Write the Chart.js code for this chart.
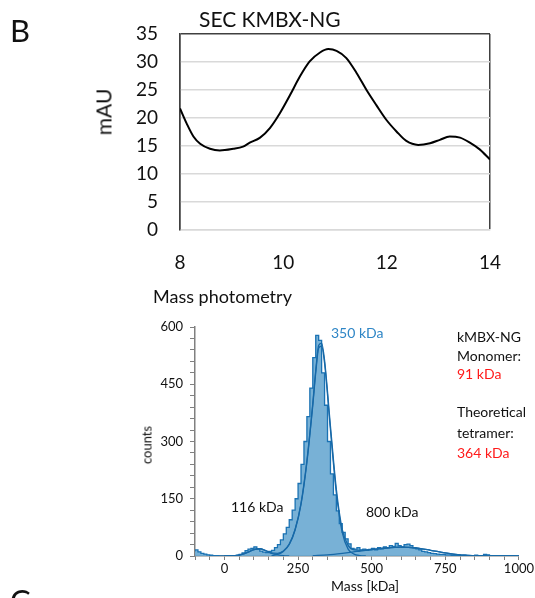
<!DOCTYPE html>
<html>
<head>
    <title>SEC and mass photometry</title>
    <script src="https://cdn.jsdelivr.net/npm/chart.js"></script>
    <style>
        body { margin: 0; background: #fff; font-family: Lato, sans-serif; }
        #wrap { position: relative; width: 535px; height: 598px; overflow: hidden; }
        canvas { position: absolute; left: 0; }
        .t { position: absolute; line-height: 1; white-space: nowrap; color: #111; }
        .red { color: #ff1a1a; }
        .blue { color: #2f86c6; }
    </style>
</head>
<body>
<div id="wrap">
    <canvas id="secChart" width="535" height="290" style="top:0"></canvas>
    <canvas id="mpChart" width="535" height="308" style="top:290px"></canvas>

    <div class="t" style="left:10px; top:15px; font-size:31px;">B</div>
    <div class="t" style="left:199px; top:8px; font-size:21px;">SEC KMBX-NG</div>
    <div class="t" style="left:103px; top:112px; font-size:21px; transform:translate(-50%,-50%) rotate(-90deg);">mAU</div>
    <div class="t" style="left:153px; top:287px; font-size:18px;">Mass photometry</div>

    <div class="t" style="left:147px; top:445px; font-size:13px; transform:translate(-50%,-50%) rotate(-90deg);">counts</div>
    <div class="t" style="left:365px; top:586px; font-size:14px; transform:translate(-50%,-50%);">Mass [kDa]</div>

    <div class="t blue" style="left:331px; top:326px; font-size:14px;">350 kDa</div>
    <div class="t" style="left:231px; top:500px; font-size:14px;">116 kDa</div>
    <div class="t" style="left:366px; top:505px; font-size:14px;">800 kDa</div>

    <div class="t" style="left:457px; top:330px; font-size:14px;">kMBX-NG</div>
    <div class="t" style="left:457px; top:349px; font-size:14px;">Monomer:</div>
    <div class="t red" style="left:457px; top:367px; font-size:14px;">91 kDa</div>
    <div class="t" style="left:457px; top:405px; font-size:14px;">Theoretical</div>
    <div class="t" style="left:457px; top:426px; font-size:14px;">tetramer:</div>
    <div class="t red" style="left:457px; top:446px; font-size:14px;">364 kDa</div>

    <div class="t" style="left:10px; top:585px; font-size:31px;">C</div>
</div>

<script>
    // SEC trace (elution volume vs absorbance)
    var secVolume = [8.0, 8.13, 8.26, 8.39, 8.58, 8.77, 9.03, 9.22, 9.35, 9.55, 9.74, 9.93, 10.13, 10.32, 10.51,
        10.71, 10.87, 11.03, 11.22, 11.42, 11.61, 11.8, 12.0, 12.19, 12.38, 12.61, 12.84, 13.03, 13.22, 13.42,
        13.61, 13.8, 14.0];
    var secMAU = [21.7, 19.0, 16.7, 15.4, 14.5, 14.2, 14.5, 14.9, 15.6, 16.5, 18.2, 20.8, 24.1, 27.4, 30.1,
        31.7, 32.3, 32.0, 30.7, 28.0, 25.0, 22.3, 19.6, 17.6, 15.9, 15.2, 15.5, 16.1, 16.7, 16.5,
        15.6, 14.4, 12.6];
    var secTicksX = [8, 10, 12, 14];

    // mass photometry histogram, 10 kDa bins (left edges)
    var massBins = [
        -100, -90, -80, -70, -60, -50, -40, -30, -20, -10,
        0, 10, 20, 30, 40, 50, 60, 70, 80, 90,
        100, 110, 120, 130, 140, 150, 160, 170, 180, 190,
        200, 210, 220, 230, 240, 250, 260, 270, 280, 290,
        300, 310, 320, 330, 340, 350, 360, 370, 380, 390,
        400, 410, 420, 430, 440, 450, 460, 470, 480, 490,
        500, 510, 520, 530, 540, 550, 560, 570, 580, 590,
        600, 610, 620, 630, 640, 650, 660, 670, 680, 690,
        700, 710, 720, 730, 740, 750, 760, 770, 780, 790,
        800, 810, 820, 830, 840, 850, 860, 870, 880, 890,
        900, 910, 920, 930, 940, 950, 960, 970, 980, 990, 1000];
    var massCounts = [
        12, 16, 11, 7, 5, 3, 2, 1, 1, 0,
        0, 0, 1, 0, 1, 2, 4, 8, 14, 18,
        20, 24, 18, 13, 10, 9, 12, 15, 22, 30,
        42, 58, 75, 95, 120, 150, 190, 240, 300, 365,
        440, 520, 578, 565, 480, 395, 300, 215, 160, 118,
        85, 62, 45, 32, 20, 18, 22, 16, 18, 15,
        17, 20, 16, 22, 19, 24, 22, 27, 25, 33,
        27, 24, 30, 31, 27, 22, 19, 16, 12, 11,
        9, 7, 6, 5, 4, 4, 3, 3, 2, 2,
        2, 1, 2, 1, 1, 1, 2, 1, 1, 4,
        3, 1, 1, 1, 1, 1, 1, 1, 1, 1, 1];

    // gaussian fits
    var fit1Mass = [0, 20, 40, 60, 80, 100, 120, 140, 160, 180, 200, 220];
    var fit1Counts = [0, 0, 1, 4, 10, 17, 19, 14, 7, 3, 1, 0];
    var fit2Mass = [160, 180, 200, 220, 240, 260, 280, 300, 310, 320, 330, 340, 360, 380, 400, 420, 440, 460, 480];
    var fit2Counts = [1, 4, 12, 30, 68, 135, 245, 395, 480, 545, 550, 505, 330, 165, 62, 18, 5, 1, 0];
    var fit3Mass = [300, 350, 400, 450, 500, 550, 600, 650, 700, 750, 800, 850, 900];
    var fit3Counts = [1, 3, 7, 12, 17, 21, 23, 21, 15, 8, 3, 1, 0];
    var fitSumMass = [0, 40, 80, 100, 120, 140, 160, 180, 200, 220, 240, 260, 280, 300, 310, 320, 330, 340,
        360, 380, 400, 420, 440, 460, 500, 550, 600, 650, 700, 750, 800, 850, 900, 1000];
    var fitSumCounts = [0, 1, 10, 17, 19, 14, 8, 7, 13, 31, 70, 138, 250, 400, 486, 552, 558, 513,
        340, 175, 70, 28, 16, 15, 17, 21, 23, 21, 15, 8, 3, 1, 0, 0];

    var massTicksX = [-100, -50, 0, 50, 100, 150, 200, 250, 300, 350, 400, 450, 500, 550, 600, 650, 700, 750,
        800, 850, 900, 950, 1000];

    Chart.defaults.font.family = 'Lato, sans-serif';
    Chart.defaults.color = '#111';

    function pts(xs, ys) {
        return xs.map(function (x, i) { return { x: x, y: ys[i] }; });
    }

    // top: SEC
    new Chart(document.getElementById('secChart').getContext('2d'), {
        type: 'line',
        data: {
            datasets: [{
                data: pts(secVolume, secMAU),
                borderColor: '#000',
                borderWidth: 2,
                pointRadius: 0,
                cubicInterpolationMode: 'monotone',
                fill: false
            }]
        },
        options: {
            responsive: false,
            animation: false,
            layout: { padding: { left: 0, right: 45, top: 34, bottom: 0 } },
            plugins: { legend: { display: false }, tooltip: { enabled: false } },
            scales: {
                x: {
                    type: 'linear',
                    min: 8,
                    max: 14,
                    afterBuildTicks: function (s) { s.ticks = secTicksX.map(function (v) { return { value: v }; }); },
                    afterFit: function (s) { s.height = 60; },
                    ticks: { font: { size: 19 }, padding: 21, maxRotation: 0 },
                    grid: {
                        drawTicks: false,
                        lineWidth: 1.5,
                        color: function (c) { return (c.tick && (c.tick.value === 8 || c.tick.value === 14)) ? '#404040' : 'rgba(0,0,0,0)'; }
                    },
                    border: { color: '#d9d9d9', width: 1.5 }
                },
                y: {
                    min: 0,
                    max: 35,
                    ticks: { stepSize: 5, font: { size: 19 }, padding: 22 },
                    afterFit: function (s) { s.width = 180; },
                    grid: {
                        drawTicks: false,
                        lineWidth: 1.5,
                        color: function (c) { return (c.tick && c.tick.value === 35) ? '#404040' : '#d9d9d9'; }
                    },
                    border: { color: '#404040', width: 1.5 }
                }
            }
        }
    });

    // bottom: mass photometry
    var histPts = pts(massBins, massCounts);
    var fitStyle = {
        borderColor: '#1769a8',
        borderWidth: 1.3,
        pointRadius: 0,
        cubicInterpolationMode: 'monotone',
        fill: false
    };

    new Chart(document.getElementById('mpChart').getContext('2d'), {
        type: 'line',
        data: {
            datasets: [
                Object.assign({ data: pts(fitSumMass, fitSumCounts) }, fitStyle),
                Object.assign({ data: pts(fit1Mass, fit1Counts) }, fitStyle),
                Object.assign({ data: pts(fit2Mass, fit2Counts) }, fitStyle),
                Object.assign({ data: pts(fit3Mass, fit3Counts) }, fitStyle),
                {
                    data: histPts,
                    stepped: 'after',
                    borderColor: '#1a72b3',
                    borderWidth: 1.3,
                    backgroundColor: 'rgba(105, 168, 210, 0.9)',
                    pointRadius: 0,
                    fill: 'origin'
                }
            ]
        },
        options: {
            responsive: false,
            animation: false,
            layout: { padding: { left: 0, right: 13, top: 37, bottom: 0 } },
            plugins: { legend: { display: false }, tooltip: { enabled: false } },
            scales: {
                x: {
                    type: 'linear',
                    min: -100,
                    max: 1000,
                    afterBuildTicks: function (s) { s.ticks = massTicksX.map(function (v) { return { value: v }; }); },
                    afterFit: function (s) { s.height = 42; },
                    ticks: {
                        autoSkip: false,
                        maxRotation: 0,
                        font: { size: 13 },
                        padding: 1,
                        callback: function (v) { return v % 250 === 0 ? String(v) : ''; }
                    },
                    grid: { drawOnChartArea: false, tickLength: 4, tickColor: '#808080', tickWidth: 1 },
                    border: { color: '#808080', width: 1.5 }
                },
                y: {
                    min: 0,
                    max: 600,
                    afterFit: function (s) { s.width = 195; },
                    ticks: {
                        stepSize: 30,
                        autoSkip: false,
                        font: { size: 13 },
                        padding: 7,
                        callback: function (v) { return v % 150 === 0 ? String(v) : ''; }
                    },
                    grid: { drawOnChartArea: false, tickLength: 5, tickColor: '#808080', tickWidth: 1 },
                    border: { color: '#808080', width: 1.5 }
                }
            }
        }
    });
</script>
</body>
</html>
